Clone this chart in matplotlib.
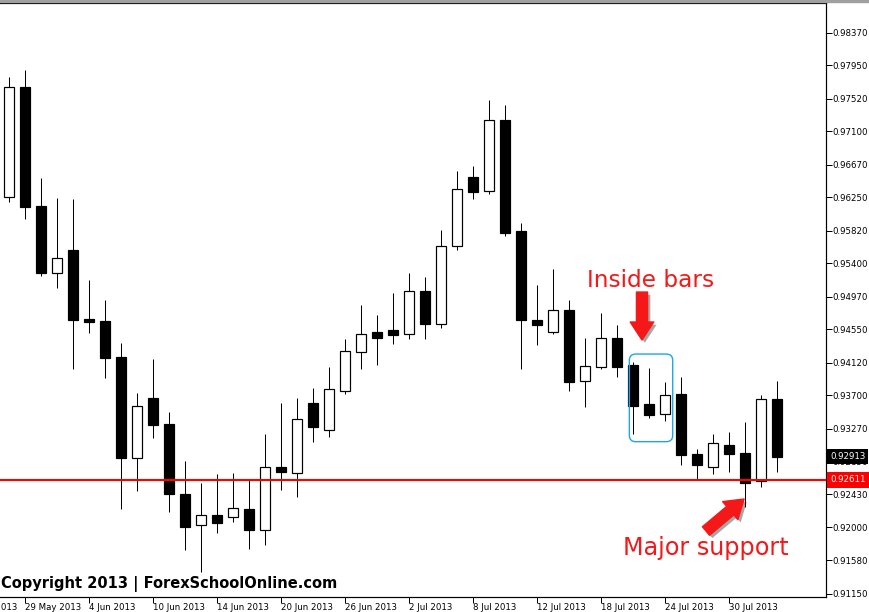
import matplotlib
matplotlib.use("Agg")
import matplotlib.pyplot as plt
import matplotlib.patheffects as pe
from matplotlib.patches import FancyBboxPatch, Rectangle
import numpy as np

# daily candles
opens = [0.96257, 0.97665, 0.96137, 0.95279, 0.95571, 0.94683, 0.94657, 0.94190,
         0.92890, 0.93662, 0.93328, 0.92427, 0.92028, 0.92156, 0.92138, 0.92233,
         0.91971, 0.92778, 0.92705, 0.93602, 0.93250, 0.93760, 0.94262, 0.94512,
         0.94541, 0.94486, 0.95039, 0.94615, 0.95618, 0.96506, 0.96326, 0.97240,
         0.95811, 0.94670, 0.94512, 0.94795, 0.93881, 0.94069, 0.94434, 0.94087,
         0.93589, 0.93456, 0.93717, 0.92945, 0.92774, 0.93061, 0.92958, 0.92594,
         0.93653]
highs = [0.97801, 0.97887, 0.96497, 0.96240, 0.96227, 0.95185, 0.94927, 0.94374,
         0.93727, 0.94164, 0.93482, 0.92855, 0.92568, 0.92688, 0.92697, 0.92607,
         0.93199, 0.93602, 0.93662, 0.93791, 0.94065, 0.94425, 0.94863, 0.94734,
         0.95017, 0.95275, 0.95223, 0.95828, 0.96588, 0.96652, 0.97501, 0.97437,
         0.95918, 0.95120, 0.95326, 0.94927, 0.94438, 0.94764, 0.94602, 0.94133,
         0.94052, 0.93872, 0.93936, 0.93010, 0.93207, 0.93228, 0.93357, 0.93705,
         0.93885]
lows = [0.96192, 0.95970, 0.95236, 0.95082, 0.94039, 0.94506, 0.93927, 0.92237,
        0.92473, 0.93155, 0.92203, 0.91710, 0.91423, 0.91932, 0.92074, 0.91727,
        0.91778, 0.92486, 0.92396, 0.93104, 0.93168, 0.93714, 0.94043, 0.94091,
        0.94365, 0.94429, 0.94429, 0.94571, 0.95575, 0.96231, 0.96295, 0.95755,
        0.94035, 0.94352, 0.94494, 0.93760, 0.93546, 0.94035, 0.93940, 0.93203,
        0.93405, 0.93374, 0.92808, 0.92611, 0.92688, 0.92717, 0.92259, 0.92517,
        0.92717]
closes = [0.97665, 0.96128, 0.95279, 0.95468, 0.94670, 0.94648, 0.94185, 0.92890,
          0.93559, 0.93322, 0.92434, 0.92010, 0.92156, 0.92061, 0.92246, 0.91971,
          0.92774, 0.92717, 0.93392, 0.93297, 0.93778, 0.94267, 0.94486, 0.94442,
          0.94481, 0.95039, 0.94622, 0.95618, 0.96352, 0.96321, 0.97240, 0.95793,
          0.94666, 0.94609, 0.94795, 0.93876, 0.94074, 0.94434, 0.94061, 0.93567,
          0.93451, 0.93701, 0.92929, 0.92808, 0.93083, 0.92941, 0.92576, 0.93649,
          0.92913]

date_labels = ["23 May 2013", "29 May 2013", "4 Jun 2013", "10 Jun 2013", "14 Jun 2013",
               "20 Jun 2013", "26 Jun 2013", "2 Jul 2013", "8 Jul 2013", "12 Jul 2013",
               "18 Jul 2013", "24 Jul 2013", "30 Jul 2013"]
price_ticks = [0.98370, 0.97950, 0.97520, 0.97100, 0.96670, 0.96250, 0.95820, 0.95400,
               0.94970, 0.94550, 0.94120, 0.93700, 0.93270, 0.92850, 0.92430, 0.92000,
               0.91580, 0.91150]
support_level = 0.92611
last_price = 0.92913

o = np.array(opens)
h = np.array(highs)
l = np.array(lows)
c = np.array(closes)
x = np.arange(len(o))
up = c >= o

fig = plt.figure(figsize=(8.7, 6.12), dpi=100)
ax = fig.add_axes([0, 15 / 612, 826 / 870, 594 / 612])

px = 0.72  # one pixel in points
ax.vlines(x, l, h, color="black", lw=px, zorder=2)
bottom = np.minimum(o, c)
height = np.maximum(np.abs(c - o), 0.00002)
ax.bar(x[up], height[up], bottom=bottom[up], width=0.64, facecolor="white",
       edgecolor="black", linewidth=px * 1.2, zorder=3)
ax.bar(x[~up], height[~up], bottom=bottom[~up], width=0.64, facecolor="black",
       edgecolor="black", linewidth=px * 1.2, zorder=3)

ax.axhline(support_level, color="#ff0000", lw=1.5, zorder=4)

ax.set_xlim(-0.5625, 51.06)
ax.set_ylim(0.91105, 0.98750)

# axes styling, MT4 look
ax.spines["left"].set_visible(False)
for s in ["top", "right", "bottom"]:
    ax.spines[s].set_linewidth(px * 1.2)
ax.yaxis.tick_right()
ax.set_yticks(price_ticks)
ax.set_yticklabels([f"{v:.5f}" for v in price_ticks])
ax.tick_params(axis="y", length=4, width=px, pad=0.8, labelsize=6.2)

tick_pos = list(range(-3, len(o), 4))
ax.set_xticks(tick_pos[1:])
ax.set_xticklabels(date_labels[1:])
ax.tick_params(axis="x", length=4, width=px, pad=0.6, labelsize=6.2)
for lbl in ax.get_xticklabels():
    lbl.set_ha("left")
# first label sits left of the visible range, only its tail shows
ax.text(tick_pos[0], -0.0108, date_labels[0], transform=ax.get_xaxis_transform(),
        ha="left", va="top", fontsize=6.2, clip_on=False)

# price labels on the right scale
ytr = ax.get_yaxis_transform()
ax.annotate(f"{last_price:.5f}", xy=(1, last_price), xycoords=ytr, xytext=(4, 0),
            textcoords="offset pixels", ha="left", va="center", fontsize=6.2, color="white",
            bbox=dict(boxstyle="square,pad=0.35", fc="black", ec="none"),
            annotation_clip=False, zorder=6)
ax.annotate(f"{support_level:.5f}", xy=(1, support_level), xycoords=ytr, xytext=(4, 0),
            textcoords="offset pixels", ha="left", va="center", fontsize=6.2, color="white",
            bbox=dict(boxstyle="square,pad=0.35", fc="#ff0000", ec="none"),
            annotation_clip=False, zorder=6)

# annotations
red = "#f41818"
arrow = "simple,head_length=1.3,head_width=1.7,tail_width=0.8"
shadow = [pe.SimplePatchShadow(offset=(2, -2), shadow_rgbFace="black", alpha=0.35), pe.Normal()]

ax.text(40.125, 0.95095, "Inside bars", color=red, fontsize=16.7, ha="center", va="baseline")
a1 = ax.annotate("", xy=(39.56, 0.94412), xytext=(39.56, 0.95030),
                 arrowprops=dict(arrowstyle=arrow, color=red, mutation_scale=10,
                                 shrinkA=0, shrinkB=0))
a1.arrow_patch.set_path_effects(shadow)

box = FancyBboxPatch((38.77, 0.93104), 41.48 - 38.77, 0.94232 - 0.93104,
                     boxstyle="round,pad=0,rounding_size=0.4", mutation_aspect=0.00206,
                     fc="none", ec="#1ea6e8", lw=1.0, zorder=5)
ax.add_patch(box)

ax.text(43.56, 0.91645, "Major support", color=red, fontsize=17.2, ha="center", va="baseline")
a2 = ax.annotate("", xy=(45.94, 0.92366), xytext=(43.56, 0.91954),
                 arrowprops=dict(arrowstyle=arrow, color=red, mutation_scale=10,
                                 shrinkA=0, shrinkB=0))
a2.arrow_patch.set_path_effects(shadow)

fig.text(1 / 870, 1 - 584 / 612, "Copyright 2013 | ForexSchoolOnline.com",
         fontsize=10.5, fontweight="bold", ha="left", va="center")

fig.patches.append(Rectangle((0, 1 - 2 / 612), 1, 2 / 612, transform=fig.transFigure,
                             color="#a0a0a0"))

fig.savefig("out.png", dpi=100)
